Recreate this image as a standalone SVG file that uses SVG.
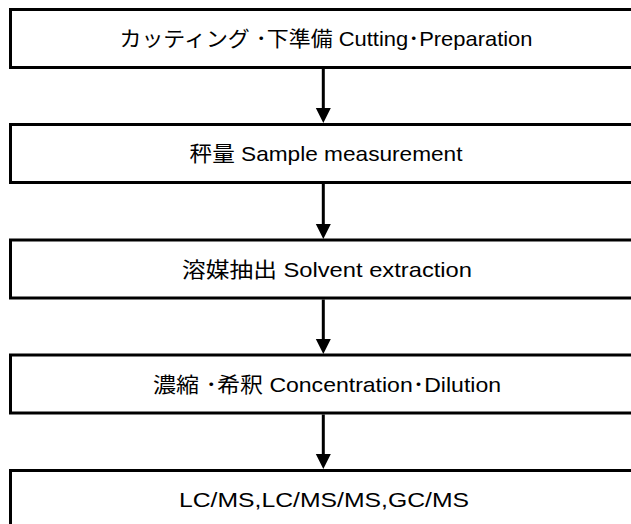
<svg xmlns="http://www.w3.org/2000/svg" width="631" height="524" viewBox="0 0 631 524">
<defs>
<style>
.box{fill:#fff;stroke:#000;stroke-width:3}
.lbl{font-family:"Liberation Sans","Noto Sans CJK JP",sans-serif;font-size:21px;fill:#000;text-anchor:middle}
.conn{stroke:#000;stroke-width:3;fill:none}
.head{fill:#000}
</style>
</defs>
<rect width="631" height="524" fill="#fff"/>
<g id="node1"><rect class="box" x="10.5" y="9.5" width="630" height="58"/><text class="lbl" x="326" y="46" textLength="413" lengthAdjust="spacingAndGlyphs">カッティング ･下準備 Cutting･Preparation</text></g>
<g id="node2"><rect class="box" x="10.5" y="124.5" width="630" height="58"/><text class="lbl" x="326" y="161" textLength="273" lengthAdjust="spacingAndGlyphs">秤量 Sample measurement</text></g>
<g id="node3"><rect class="box" x="10.5" y="240" width="630" height="58"/><text class="lbl" x="327" y="276.5" textLength="290" lengthAdjust="spacingAndGlyphs">溶媒抽出 Solvent extraction</text></g>
<g id="node4"><rect class="box" x="10.5" y="355" width="630" height="58"/><text class="lbl" x="327" y="391.5" textLength="348" lengthAdjust="spacingAndGlyphs">濃縮 ･希釈 Concentration･Dilution</text></g>
<g id="node5"><rect class="box" x="10.5" y="470.5" width="630" height="70"/><text class="lbl" x="324" y="507" textLength="290" lengthAdjust="spacingAndGlyphs">LC/MS,LC/MS/MS,GC/MS</text></g>
<g id="connectors">
<line class="conn" x1="323.3" y1="69" x2="323.3" y2="110"/><polygon class="head" points="315.8,108 330.8,108 323.3,123"/>
<line class="conn" x1="323.3" y1="184" x2="323.3" y2="226"/><polygon class="head" points="315.8,224 330.8,224 323.3,239"/>
<line class="conn" x1="323.3" y1="299.5" x2="323.3" y2="341"/><polygon class="head" points="315.8,339 330.8,339 323.3,354"/>
<line class="conn" x1="323.3" y1="414.5" x2="323.3" y2="456"/><polygon class="head" points="315.8,454 330.8,454 323.3,469"/>
</g>
</svg>
